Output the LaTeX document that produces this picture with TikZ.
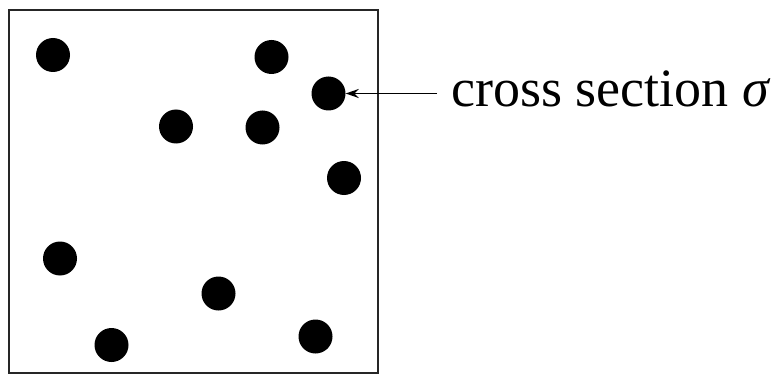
\documentclass[tikz,border=0pt]{standalone}
\usepackage{fontspec}
\setmainfont{Liberation Serif}
\usetikzlibrary{arrows.meta}
\begin{document}
\begin{tikzpicture}[x=1pt,y=-1pt,
  particle/.style={circle,fill=black,inner sep=0pt,minimum size=34pt},
  frame/.style={draw=black!85,line width=1.8pt},
  pointer/.style={draw=black,line width=1.5pt,-{Stealth[length=13pt,width=9pt]}},
  label/.style={anchor=base west,inner sep=0pt,font=\fontsize{54}{60}\selectfont}]
\useasboundingbox (0,0) rectangle (784,377);
\draw[frame] (9,10) rectangle (378,373);
\node[particle] (p1) at (53,55) {};
\node[particle] (p2) at (271.5,57) {};
\node[particle] (p3) at (328.5,93.5) {};
\node[particle] (p4) at (176,126.5) {};
\node[particle] (p5) at (262.5,127.5) {};
\node[particle] (p6) at (344,178) {};
\node[particle] (p7) at (60,258.5) {};
\node[particle] (p8) at (218.5,293.5) {};
\node[particle] (p9) at (315.5,336.5) {};
\node[particle] (p10) at (111.5,345) {};
\node[label] (lbl) at (451,106.5) {cross section {\itshape σ}};
\coordinate (tail) at (437,93.5);
\draw[pointer] (tail) -- (p3);
\end{tikzpicture}
\end{document}
